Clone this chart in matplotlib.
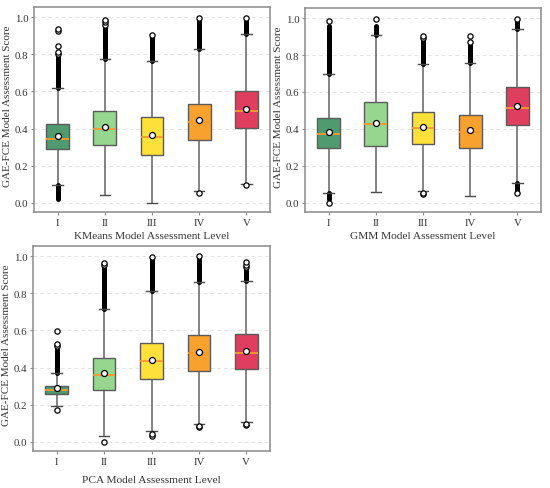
import matplotlib
matplotlib.use("Agg")
import matplotlib.pyplot as plt

plt.rcParams['font.family'] = ['Liberation Serif', 'DejaVu Serif']

levels = ["I", "II", "III", "IV", "V"]
colors = ["#4f9a6f", "#96d68f", "#fde03a", "#f9a12e", "#e03e5e"]
ylabel = "GAE-FCE Model Assessment Score"

# KMeans
km_q1 = [0.292, 0.312, 0.258, 0.340, 0.401]
km_med = [0.342, 0.400, 0.353, 0.434, 0.496]
km_q3 = [0.425, 0.493, 0.460, 0.534, 0.602]
km_lo = [0.095, 0.040, 0.000, 0.061, 0.100]
km_hi = [0.618, 0.775, 0.765, 0.828, 0.912]
km_mean = [0.360, 0.410, 0.366, 0.446, 0.505]
km_fliers = [[0.800, 0.815, 0.845, 0.923, 0.938], [0.960, 0.975, 0.984],
             [0.905], [0.050, 0.998], [0.093, 0.995]]
km_dense = [[(0.022, 0.095), (0.618, 0.790)], [(0.775, 0.945)],
            [(0.765, 0.895)], [(0.828, 0.995)], [(0.912, 0.990)]]

# GMM
gm_q1 = [0.296, 0.308, 0.321, 0.294, 0.419]
gm_med = [0.371, 0.428, 0.407, 0.385, 0.514]
gm_q3 = [0.457, 0.545, 0.491, 0.478, 0.625]
gm_lo = [0.054, 0.061, 0.063, 0.036, 0.109]
gm_hi = [0.697, 0.909, 0.753, 0.756, 0.941]
gm_mean = [0.385, 0.434, 0.412, 0.392, 0.525]
gm_fliers = [[0.000, 0.984], [0.995], [0.045, 0.052, 0.890, 0.903],
             [0.870, 0.903], [0.053, 0.998]]
gm_dense = [[(0.020, 0.054), (0.697, 0.960)], [(0.909, 0.955)],
            [(0.753, 0.875)], [(0.756, 0.855)], [(0.060, 0.109), (0.941, 0.995)]]

# PCA
pc_q1 = [0.257, 0.280, 0.337, 0.383, 0.392]
pc_med = [0.277, 0.359, 0.434, 0.477, 0.477]
pc_q3 = [0.302, 0.450, 0.530, 0.573, 0.582]
pc_lo = [0.192, 0.030, 0.057, 0.097, 0.109]
pc_hi = [0.368, 0.713, 0.814, 0.862, 0.866]
pc_mean = [0.288, 0.373, 0.440, 0.482, 0.489]
pc_fliers = [[0.172, 0.515, 0.527, 0.596], [0.000, 0.950, 0.965],
             [0.030, 0.040, 0.995], [0.080, 0.086, 1.000],
             [0.090, 0.097, 0.940, 0.955, 0.970]]
pc_dense = [[(0.368, 0.505)], [(0.713, 0.940)], [(0.814, 0.990)],
            [(0.862, 0.995)], [(0.866, 0.930)]]

panels = [
    ("KMeans Model Assessment Level", km_q1, km_med, km_q3, km_lo, km_hi, km_mean, km_fliers, km_dense),
    ("GMM Model Assessment Level", gm_q1, gm_med, gm_q3, gm_lo, gm_hi, gm_mean, gm_fliers, gm_dense),
    ("PCA Model Assessment Level", pc_q1, pc_med, pc_q3, pc_lo, pc_hi, pc_mean, pc_fliers, pc_dense),
]

W, H = 550, 489
fig = plt.figure(figsize=(W / 100, H / 100), dpi=100)
rects = [
    (34 / W, 1 - 213 / H, 236 / W, 205 / H),
    (305 / W, 1 - 213 / H, 236 / W, 204 / H),
    (33 / W, 1 - 452 / H, 237 / W, 205 / H),
]
xlabel_y = [-0.117, -0.117, -0.137]

spine_c = "#8a8a8a"
for rect, xly, (xl, q1, med, q3, lo, hi, mean, fl, dense) in zip(rects, xlabel_y, panels):
    ax = fig.add_axes(rect)
    pos = list(range(1, len(levels) + 1))
    ax.set_axisbelow(True)
    ax.yaxis.grid(True, color="#e4e4e4", linestyle=(0, (4, 3)), linewidth=0.7)
    # dense outlier clusters
    for p, segs in zip(pos, dense):
        for a, b in segs:
            ax.plot([p, p], [a, b], color="black", linewidth=3.6,
                    solid_capstyle="round", zorder=2)
    stats = []
    for i in range(len(levels)):
        stats.append(dict(q1=q1[i], med=med[i], q3=q3[i], whislo=lo[i],
                          whishi=hi[i], mean=mean[i], fliers=fl[i]))
    bp = ax.bxp(stats, positions=pos, widths=0.48, patch_artist=True,
                showmeans=True, showfliers=True, capwidths=0.22,
                boxprops=dict(edgecolor="#5a5a5a", linewidth=1.0),
                whiskerprops=dict(color="#6e6e6e", linewidth=1.2),
                capprops=dict(color="#4a4a4a", linewidth=1.0),
                medianprops=dict(color="#f39a2c", linewidth=1.3),
                meanprops=dict(marker="o", markerfacecolor="white",
                               markeredgecolor="black", markersize=4.3,
                               markeredgewidth=0.9),
                flierprops=dict(marker="o", markerfacecolor="white",
                                markeredgecolor="black", markersize=3.8,
                                markeredgewidth=0.9))
    for patch, c in zip(bp["boxes"], colors):
        patch.set_facecolor(c)
    for w in bp["whiskers"]:
        w.set_zorder(1.5)
    ax.set_xlim(0.5, 5.5)
    ax.set_ylim(-0.05, 1.055)
    ax.set_yticks([0.0, 0.2, 0.4, 0.6, 0.8, 1.0])
    ax.set_yticklabels(["0.0", "0.2", "0.4", "0.6", "0.8", "1.0"])
    ax.set_xticks(pos)
    ax.set_xticklabels(levels)
    ax.tick_params(axis="both", labelsize=7.8, colors=spine_c, labelcolor="#333333",
                   length=2.5, width=0.8, pad=1.5)
    for s in ax.spines.values():
        s.set_color(spine_c)
        s.set_linewidth(1.1)
    ax.set_xlabel(xl, fontsize=8.2, color="#333333")
    ax.xaxis.label.set_va("center")
    ax.xaxis.set_label_coords(0.5, xly)
    ax.set_ylabel(ylabel, fontsize=8.0, color="#333333")
    ax.yaxis.label.set_va("center")
    ax.yaxis.set_label_coords(-0.112, 0.52)

fig.savefig("out.png", dpi=100, facecolor="white")
